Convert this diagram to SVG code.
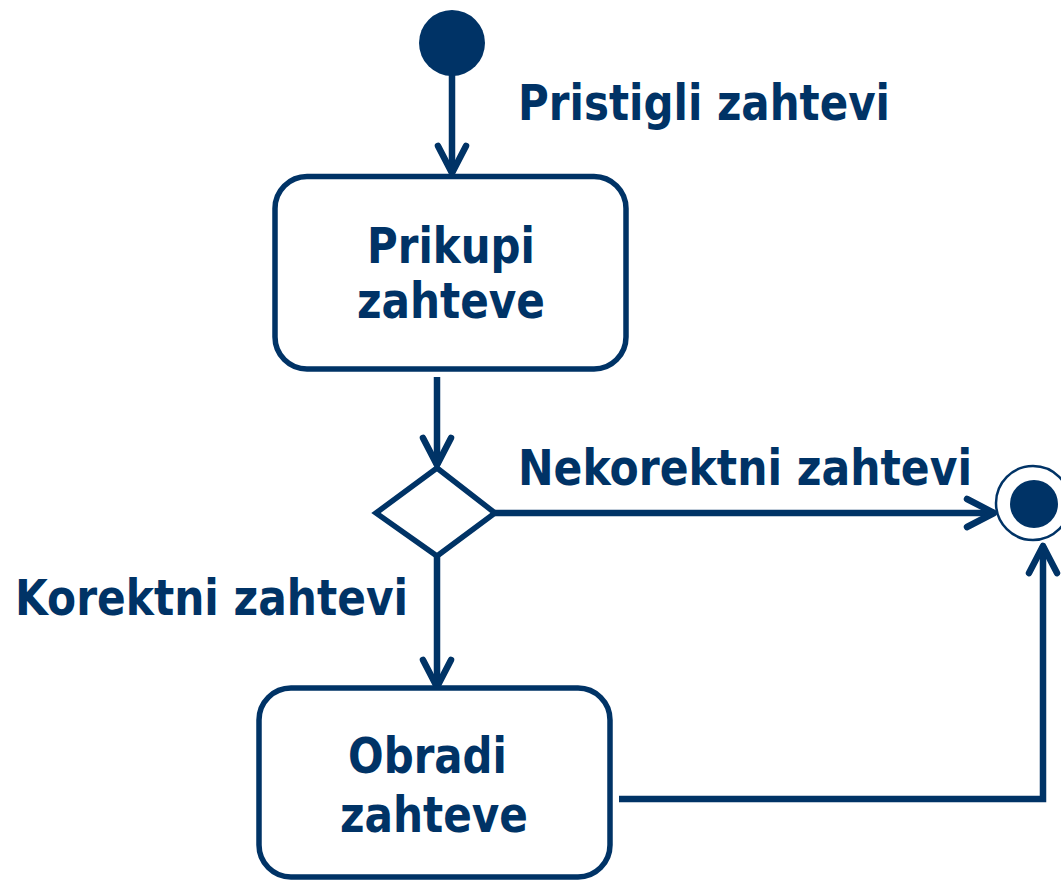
<svg xmlns="http://www.w3.org/2000/svg" width="1061" height="880" viewBox="0 0 1061 880">
<style>
.ln{fill:none;stroke:#003366;stroke-width:6.5}
.box{fill:#fff;stroke:#003366;stroke-width:5.5}
.t{font-family:"DejaVu Sans","Liberation Sans",sans-serif;font-weight:bold;font-size:49px;fill:#003366}
</style>
<defs>
<marker id="arr" markerUnits="userSpaceOnUse" markerWidth="44" markerHeight="44" viewBox="-36 -22 44 44" refX="0" refY="0" orient="auto" overflow="visible">
<path d="M-27,-14 L0,0 L-27,14" fill="none" stroke="#003366" stroke-width="6.5" stroke-linecap="round" stroke-linejoin="round"/>
</marker>
</defs>
<rect width="1061" height="880" fill="#fff"/>
<g id="connectors">
<line class="ln" x1="452" y1="70" x2="452" y2="173" marker-end="url(#arr)"/>
<line class="ln" x1="437" y1="377" x2="437" y2="465" marker-end="url(#arr)"/>
<line class="ln" x1="495" y1="513" x2="994" y2="513" marker-end="url(#arr)"/>
<line class="ln" x1="437" y1="556" x2="437" y2="687" marker-end="url(#arr)"/>
<polyline class="ln" points="619,799 1043,799 1043,546" marker-end="url(#arr)"/>
</g>
<g id="start"><circle cx="452" cy="43" r="33" fill="#003366"/></g>
<g id="prikupi">
<rect class="box" x="275" y="176.5" width="351" height="192.5" rx="32"/>
<text class="t" x="367" y="263" textLength="168" lengthAdjust="spacingAndGlyphs">Prikupi</text>
<text class="t" x="357" y="318" textLength="188" lengthAdjust="spacingAndGlyphs">zahteve</text>
</g>
<g id="decision"><polygon points="437,468 495,513 437,556 376,513" fill="#fff" stroke="#003366" stroke-width="5.5" stroke-linejoin="miter"/></g>
<g id="obradi">
<rect class="box" x="259" y="688" width="351" height="189" rx="32"/>
<text class="t" x="348" y="773" textLength="159" lengthAdjust="spacingAndGlyphs">Obradi</text>
<text class="t" x="340" y="832" textLength="188" lengthAdjust="spacingAndGlyphs">zahteve</text>
</g>
<g id="end">
<circle cx="1033" cy="503" r="37" fill="#fff" stroke="#003366" stroke-width="2.5"/>
<circle cx="1034" cy="504" r="24" fill="#003366"/>
</g>
<g id="labels">
<text class="t" x="518" y="120" textLength="372" lengthAdjust="spacingAndGlyphs">Pristigli zahtevi</text>
<text class="t" x="518" y="485" textLength="454" lengthAdjust="spacingAndGlyphs">Nekorektni zahtevi</text>
<text class="t" x="15" y="615" textLength="393" lengthAdjust="spacingAndGlyphs">Korektni zahtevi</text>
</g>
</svg>
